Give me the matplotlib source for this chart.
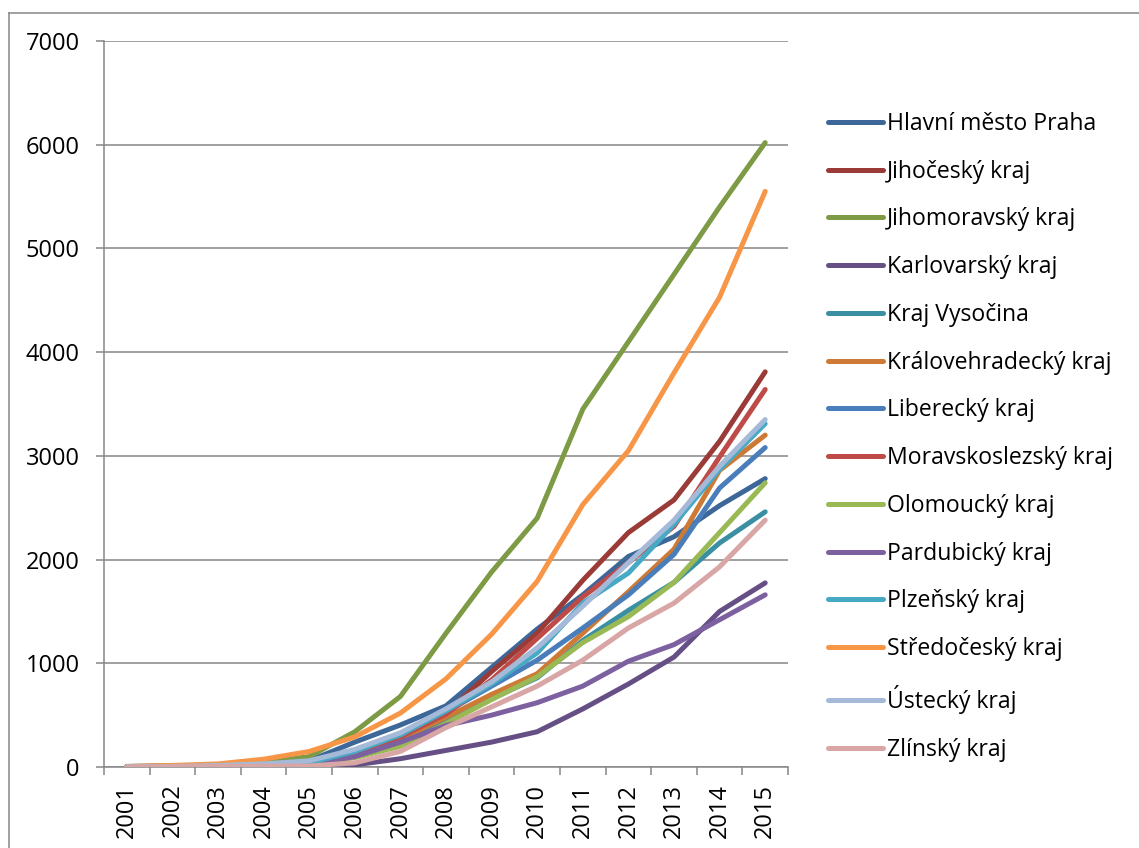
import matplotlib
matplotlib.use('Agg')
import matplotlib.pyplot as plt
from matplotlib.lines import Line2D

plt.rcParams['font.family'] = ['Open Sans', 'DejaVu Sans']

years = [str(y) for y in range(2001, 2016)]

kraje = ['Hlavní město Praha', 'Jihočeský kraj', 'Jihomoravský kraj', 'Karlovarský kraj',
         'Kraj Vysočina', 'Královehradecký kraj', 'Liberecký kraj', 'Moravskoslezský kraj',
         'Olomoucký kraj', 'Pardubický kraj', 'Plzeňský kraj', 'Středočeský kraj',
         'Ústecký kraj', 'Zlínský kraj']

praha = [5, 10, 20, 35, 60, 240, 405, 590, 960, 1330, 1660, 2030, 2220, 2520, 2780]
jihocesky = [3, 8, 15, 25, 40, 160, 320, 520, 920, 1290, 1800, 2260, 2575, 3140, 3810]
jihomoravsky = [5, 10, 20, 45, 100, 340, 680, 1290, 1880, 2400, 3450, 4100, 4750, 5400, 6020]
karlovarsky = [0, 2, 5, 8, 10, 20, 80, 160, 240, 340, 560, 800, 1060, 1500, 1775]
vysocina = [2, 5, 10, 20, 30, 120, 250, 450, 660, 860, 1220, 1510, 1780, 2160, 2460]
kralovehradecky = [2, 5, 10, 20, 35, 130, 270, 480, 700, 900, 1290, 1690, 2100, 2860, 3200]
liberecky = [2, 5, 10, 20, 35, 140, 300, 530, 780, 1030, 1340, 1660, 2050, 2690, 3080]
moravskoslezsky = [2, 5, 10, 20, 30, 130, 290, 510, 840, 1240, 1640, 1970, 2320, 2990, 3640]
olomoucky = [2, 5, 10, 15, 25, 90, 200, 420, 650, 870, 1200, 1450, 1780, 2260, 2740]
pardubicky = [2, 5, 10, 15, 25, 100, 240, 400, 500, 620, 780, 1020, 1180, 1420, 1660]
plzensky = [2, 5, 10, 20, 40, 150, 310, 540, 800, 1100, 1580, 1870, 2340, 2870, 3310]
stredocesky = [5, 15, 30, 75, 150, 290, 520, 850, 1280, 1790, 2530, 3050, 3800, 4530, 5550]
ustecky = [2, 5, 15, 30, 60, 170, 330, 560, 820, 1150, 1550, 1970, 2380, 2900, 3350]
zlinsky = [0, 2, 5, 8, 10, 40, 150, 380, 580, 780, 1030, 1340, 1580, 1930, 2380]

series = [praha, jihocesky, jihomoravsky, karlovarsky, vysocina, kralovehradecky, liberecky,
          moravskoslezsky, olomoucky, pardubicky, plzensky, stredocesky, ustecky, zlinsky]

colors = ['#3C6798', '#9A3B38', '#7D9A45', '#654F85', '#3A8FA3', '#CC7A35', '#4A7EBB',
          '#BE4B48', '#98B954', '#7D60A0', '#46AAC5', '#F79646', '#A5B9D9', '#D8A6A5']

grid_col = '#868686'

fig = plt.figure(figsize=(11.39, 8.48), dpi=100)
ax = fig.add_axes([104 / 1139, 81 / 848, 684 / 1139, 726 / 848])

x = list(range(len(years)))
for name, vals, c in zip(kraje, series, colors):
    ax.plot(x, vals, color=c, lw=3.6, solid_capstyle='round', solid_joinstyle='round',
            label=name, zorder=3)

ax.set_xlim(-0.5, len(years) - 0.5)
ax.set_ylim(0, 7000)
ax.set_yticks(range(0, 7001, 1000))
ax.set_xticks(x)
ax.set_xticklabels(years, rotation=90)
ax.set_xticks([i - 0.5 for i in range(len(years) + 1)], minor=True)
ax.tick_params(axis='x', which='major', length=0, pad=12, labelsize=17)
ax.tick_params(axis='x', which='minor', length=5.5, width=1.1, color=grid_col)
ax.tick_params(axis='y', length=5.5, width=1.1, color=grid_col, pad=12, labelsize=17)
ax.yaxis.grid(True, color=grid_col, lw=1.1, zorder=0)
ax.set_axisbelow(True)
for s in ['top', 'right']:
    ax.spines[s].set_visible(False)
for s in ['left', 'bottom']:
    ax.spines[s].set_color(grid_col)
    ax.spines[s].set_linewidth(1.1)

ax.legend(loc='upper left', bbox_to_anchor=(828 / 1139, 1 - 112 / 848),
          bbox_transform=fig.transFigure, frameon=False, fontsize=16.6,
          handlelength=2.39, handletextpad=0.17, labelspacing=1.03,
          borderpad=0, borderaxespad=0)

# outer chart border
fig.add_artist(Line2D([8.5 / 1139, 8.5 / 1139], [0, 1 - 13 / 848], color=grid_col, lw=1.1))
fig.add_artist(Line2D([8.5 / 1139, 1], [1 - 13 / 848, 1 - 13 / 848], color=grid_col, lw=1.1))

fig.savefig('out.png', dpi=100)
